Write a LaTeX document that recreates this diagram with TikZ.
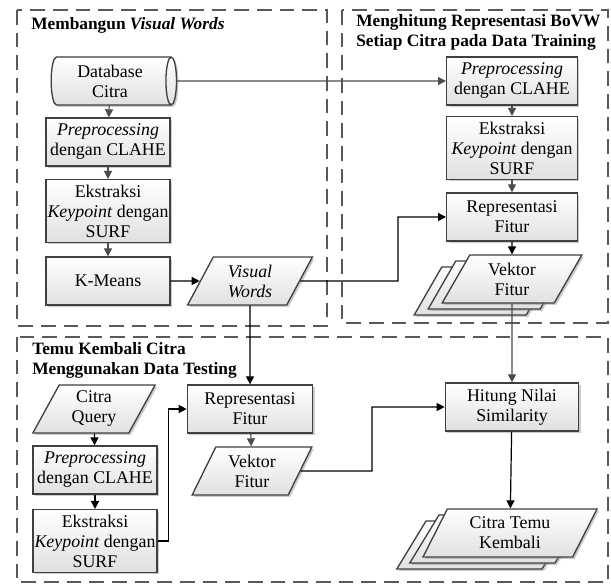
\documentclass[tikz,border=0pt]{standalone}
\usepackage{fontspec}
\setmainfont{Liberation Serif}
\usetikzlibrary{shapes.geometric,arrows.meta,shadows}

\tikzset{
  kotak/.style={draw=black!65,line width=1.5pt,dash pattern=on 11pt off 6pt},
  judul/.style={anchor=west,inner sep=0pt,align=left,font=\fontsize{13}{15}\selectfont\bfseries},
  isi/.style={draw=black!75,line width=1pt,top color=white,bottom color=black!12,
    drop shadow={shadow xshift=1.5pt,shadow yshift=-1.5pt,fill=black!40,opacity=.5},
    align=center,inner sep=1pt,font=\fontsize{13.4}{15}\selectfont},
  proses/.style={isi,rectangle,minimum width=93pt,minimum height=36pt},
  datacyl/.style={isi,cylinder,shape aspect=0.3,minimum width=36pt,minimum height=94pt},
  io/.style={isi,trapezium,trapezium left angle=65,trapezium right angle=115,
    trapezium stretches=true,minimum height=36pt},
  panah/.style={line width=0.9pt,-{Triangle[length=6pt,width=6pt]}},
  panahabu/.style={panah,draw=black!70}
}

\begin{document}
\begin{tikzpicture}[x=0.75pt,y=-0.75pt]
\useasboundingbox (0,0) rectangle (611,584);
%\draw[style=help lines,step=50] (0,0) grid (611,584);

%grup
\draw[kotak] (17,10) rectangle (327,326);
\draw[kotak] (342,10) rectangle (608,323);
\draw[kotak] (17,337) rectangle (608,582);
\node[judul] (j1) at (31,25){Membangun \textit{Visual Words}};
\node[judul] (j2) at (356,32){Menghitung Representasi BoVW\\Setiap Citra pada Data Training};
\node[judul] (j3) at (32,360){Temu Kembali Citra\\Menggunakan Data Testing};

%membangun visual words
\node[datacyl] (db) at (110,81){Database\\Citra};
\node[proses] (pre1) at (108,142){\textit{Preprocessing}\\dengan CLAHE};
\node[proses,minimum height=47pt] (eks1) at (108,211){Ekstraksi\\\textit{Keypoint} dengan\\SURF};
\node[proses] (km) at (108,281){K-Means};
\node[io,minimum width=94pt] (vw) at (250,281){\textit{Visual}\\\textit{Words}};

%representasi data training
\node[proses,minimum width=98pt] (pre2) at (512,81){\textit{Preprocessing}\\dengan CLAHE};
\node[proses,minimum width=98pt,minimum height=47pt] (eks2) at (512,148){Ekstraksi\\\textit{Keypoint} dengan\\SURF};
\node[proses,minimum width=98pt] (rep2) at (512,217){Representasi\\Fitur};
\node[io,minimum width=105pt] (vf2b) at (484,291){\phantom{Vektor}\\\phantom{Fitur}};
\node[io,minimum width=105pt] (vf2a) at (498,285){\phantom{Vektor}\\\phantom{Fitur}};
\node[io,minimum width=105pt] (vf2) at (512,279){Vektor\\Fitur};

%temu kembali
\node[io,minimum width=92pt] (cq) at (94,409){Citra\\Query};
\node[proses] (pre3) at (95,470){\textit{Preprocessing}\\dengan CLAHE};
\node[proses,minimum height=47pt] (eks3) at (95,541){Ekstraksi\\\textit{Keypoint} dengan\\SURF};
\node[proses,minimum width=94pt] (rep3) at (250,409){Representasi\\Fitur};
\node[io,minimum width=90pt] (vf3) at (252,471){Vektor\\Fitur};
\node[proses,minimum width=100pt] (hns) at (512,407){Hitung Nilai\\Similarity};
\node[io,minimum width=131pt] (ctk2) at (484,545){\phantom{Citra}\\\phantom{Kembali}};
\node[io,minimum width=131pt] (ctk1) at (497,539){\phantom{Citra}\\\phantom{Kembali}};
\node[io,minimum width=131pt] (ctk) at (510,533){Citra Temu\\Kembali};

\coordinate (b1) at (398,281);
\coordinate (b3) at (372,471);

%panah
\draw[panahabu] (db) -- (pre1);
\draw[panahabu] (pre1) -- (eks1);
\draw[panahabu] (eks1) -- (km);
\draw[panah] (km) -- (vw);
\draw[panahabu] (db) -- (pre2);
\draw[panah] (vw) -- (b1) |- (rep2);
\draw[panah] (vw) -- (rep3);

\draw[panahabu] (pre2) -- (eks2);
\draw[panahabu] (eks2) -- (rep2);
\draw[panah] (rep2) -- (vf2);
\draw[panahabu] (vf2) -- (hns);

\draw[panah] (cq) -- (pre3);
\draw[panah] (pre3) -- (eks3);
\draw[panah] (eks3.east) -- ++(11,0) |- (rep3);
\draw[panahabu] (rep3) -- (vf3);
\draw[panah] (vf3) -- (b3) |- (hns);
\draw[panah] (hns) -- (ctk);

\end{tikzpicture}
\end{document}
